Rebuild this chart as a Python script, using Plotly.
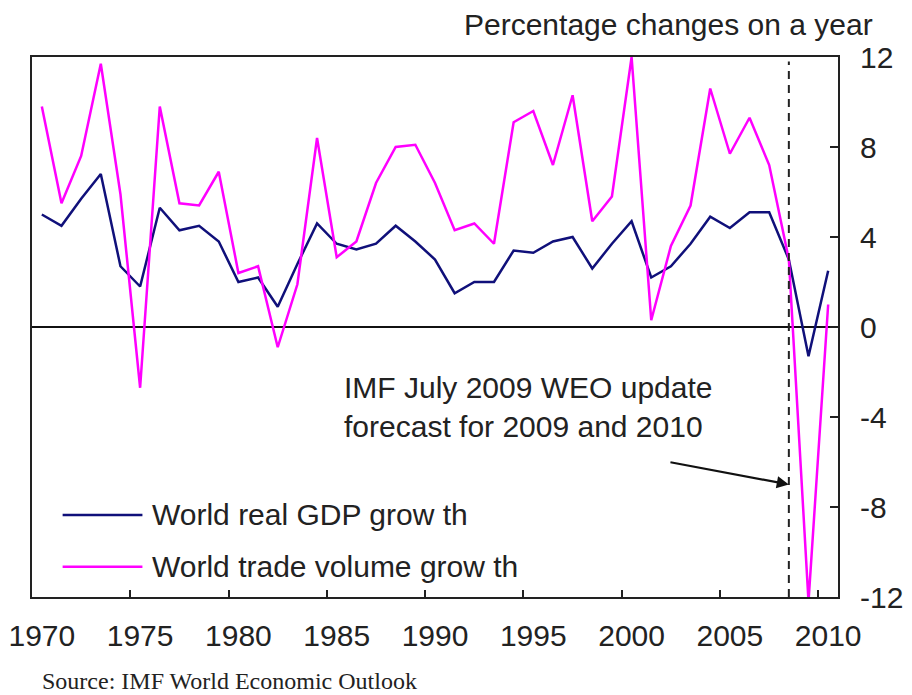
import plotly.graph_objects as go

# World GDP and trade volume growth, % change on a year (IMF WEO)
YEARS = list(range(1970, 2011))
GDP_GROWTH = [
    5.0, 4.5, 5.7, 6.8, 2.7, 1.8, 5.3, 4.3, 4.5, 3.8,
    2.0, 2.2, 0.9, 2.8, 4.6, 3.7, 3.45, 3.7, 4.5, 3.8,
    3.0, 1.5, 2.0, 2.0, 3.4, 3.3, 3.8, 4.0, 2.6, 3.7,
    4.7, 2.2, 2.7, 3.7, 4.9, 4.4, 5.1, 5.1, 3.0, -1.3,
    2.5,
]
TRADE_GROWTH = [
    9.8, 5.5, 7.6, 11.7, 5.9, -2.7, 9.8, 5.5, 5.4, 6.9,
    2.4, 2.7, -0.9, 1.9, 8.4, 3.1, 3.8, 6.4, 8.0, 8.1,
    6.4, 4.3, 4.6, 3.7, 9.1, 9.6, 7.2, 10.3, 4.7, 5.8,
    12.0, 0.3, 3.6, 5.4, 10.6, 7.7, 9.3, 7.2, 3.0, -12.2,
    1.0,
]
SERIES_NAMES = ["World real GDP grow th", "World trade volume grow th"]
SERIES_COLORS = ["#10107a", "#ff00ff"]

X_LABELS = list(range(1970, 2011, 5))
X_TICK_MARKS = [y - 0.5 for y in range(1975, 2011, 5)]
Y_TICKS = [-12, -8, -4, 0, 4, 8, 12]
Y_TICK_TEXT = ["-12", "-8", "-4", "0", "4", "8", "12"]
FORECAST_START = 2008

SANS = "Liberation Sans, Arial, sans-serif"
SERIF = "Liberation Serif, Times New Roman, serif"
INK = "#222"

fig = go.Figure()
for name, values, color in zip(SERIES_NAMES, [GDP_GROWTH, TRADE_GROWTH], SERIES_COLORS):
    fig.add_trace(go.Scatter(
        x=YEARS,
        y=values,
        name=name,
        mode="lines",
        line=dict(color=color, width=2.5),
        showlegend=False,
    ))

# label-only axis so year labels sit on the categories while ticks sit between them
fig.add_trace(go.Scatter(x=[YEARS[0]], y=[0], xaxis="x2", mode="markers",
                         marker=dict(opacity=0), showlegend=False, hoverinfo="skip"))

fig.add_shape(
    type="line", x0=FORECAST_START, x1=FORECAST_START, y0=-12, y1=11.8,
    xref="x", yref="y", line=dict(color=INK, width=2, dash="8px,6px"),
)

# hand-made legend with long line samples
legend_y = [0.152, 0.056]
for name, color, ly in zip(SERIES_NAMES, SERIES_COLORS, legend_y):
    fig.add_shape(type="line", xref="paper", yref="paper",
                  x0=0.038, x1=0.137, y0=ly, y1=ly, line=dict(color=color, width=2.5))
    fig.add_annotation(text=name, xref="paper", yref="paper", x=0.147, y=ly,
                       xanchor="left", yanchor="middle", showarrow=False,
                       font=dict(family=SANS, size=30, color=INK))

fig.add_annotation(
    text="IMF July 2009 WEO update<br>forecast for 2009 and 2010",
    x=1985.25, y=-3.57, xanchor="left", yanchor="middle", align="left",
    showarrow=False, font=dict(family=SANS, size=30, color=INK),
)
fig.add_annotation(
    text="", x=FORECAST_START, y=-7.0, ax=2001.9, ay=-6.0,
    axref="x", ayref="y", showarrow=True,
    arrowhead=2, arrowsize=1.1, arrowwidth=2.2, arrowcolor="#111",
)
fig.add_annotation(
    text="Percentage changes on a year", xref="paper", yref="paper",
    x=1.0456, y=1.0605, xanchor="right", yanchor="middle", showarrow=False,
    font=dict(family=SANS, size=30, color=INK),
)
fig.add_annotation(
    text="Source: IMF World Economic Outlook", xref="paper", yref="paper",
    x=0.0096, y=-0.155, xanchor="left", yanchor="middle", showarrow=False,
    font=dict(family=SERIF, size=24, color=INK),
)

# the page body adds an 8px offset, so the figure is sized to fit the window
fig.update_layout(
    width=904,
    height=687,
    margin=dict(l=24, r=74, t=49, b=98),
    paper_bgcolor="white",
    plot_bgcolor="white",
    font=dict(family=SANS, color=INK),
    xaxis=dict(
        range=[1969.5, 2010.5],
        tickvals=X_TICK_MARKS,
        ticks="inside",
        ticklen=7,
        tickwidth=1.5,
        tickcolor=INK,
        showticklabels=False,
        showgrid=False,
        zeroline=False,
        showline=True,
        linecolor=INK,
        linewidth=2,
        mirror=True,
        automargin=False,
    ),
    xaxis2=dict(
        overlaying="x",
        matches="x",
        anchor="y",
        side="bottom",
        tickvals=X_LABELS,
        ticks="",
        showgrid=False,
        zeroline=False,
        showline=False,
        ticklabelstandoff=18,
        tickfont=dict(family=SANS, size=30, color=INK),
        automargin=False,
    ),
    yaxis=dict(
        range=[-12, 12],
        side="right",
        tickvals=Y_TICKS,
        ticktext=Y_TICK_TEXT,
        ticks="inside",
        ticklen=8,
        tickwidth=1.5,
        tickcolor=INK,
        tickfont=dict(family=SANS, size=30, color=INK),
        ticklabelstandoff=14,
        showgrid=False,
        zeroline=True,
        zerolinecolor="#111",
        zerolinewidth=1.5,
        showline=True,
        linecolor=INK,
        linewidth=2,
        mirror=True,
        automargin=False,
    ),
)

fig.write_html("out.html")
